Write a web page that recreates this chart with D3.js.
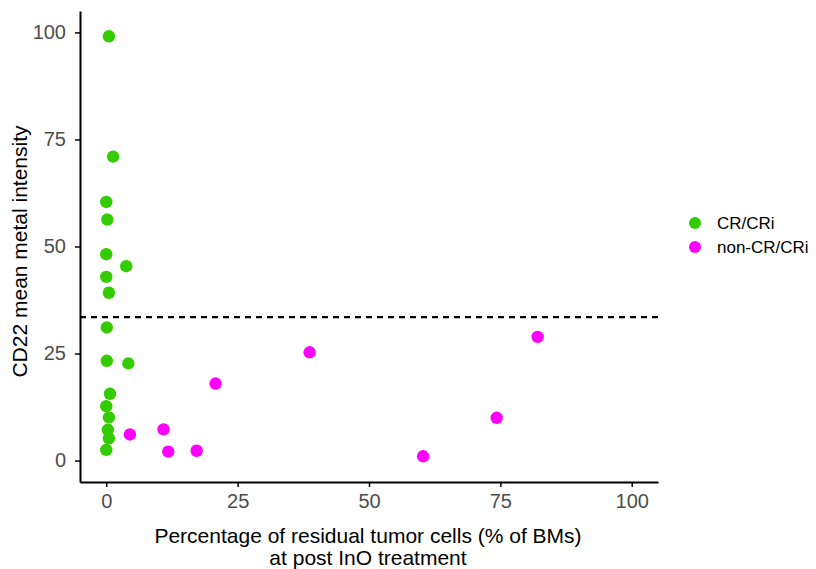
<!DOCTYPE html>
<meta charset="utf-8" />
<style>
  body { margin: 0; background: #fff; }
  text { font-family: "Liberation Sans", Arial, Helvetica, sans-serif; }
</style>
<body>
  <div id="chart"></div>
  <script src="https://cdn.jsdelivr.net/npm/d3@7"></script>
  <script>
    // residual tumor cells (%) and CD22 intensity, by response group
    var crX = [0.5, 1.3, 0, 0.2, 0, 3.8, 0, 0.5, 0.1, 0.1, 4.2, 0.7, 0, 0.5, 0.3, 0.5, 0];
    var crY = [99.1, 71.0, 60.4, 56.3, 48.2, 45.4, 42.9, 39.2, 31.1, 23.3, 22.7, 15.6, 12.7, 10.1, 7.2, 5.2, 2.5];
    var nonX = [4.5, 10.9, 11.8, 17.2, 20.8, 38.7, 82.1, 74.3, 60.3];
    var nonY = [6.1, 7.3, 2.1, 2.3, 18.0, 25.3, 28.9, 10.0, 1.0];
    var groups = ["CR/CRi", "non-CR/CRi"];
    var groupColors = ["#33CC00", "#FF00FF"];
    var xTicks = [0, 25, 50, 75, 100];
    var yTicks = [0, 25, 50, 75, 100];
    var cutoff = 33.5;

    var width = 816, height = 569;
    var plotL = 80, plotR = 658, plotT = 11, plotB = 482;

    var svg = d3.select("#chart").append("svg")
      .attr("width", width)
      .attr("height", height);

    var x = d3.scaleLinear().domain([-5, 105]).range([plotL, plotR]);
    var y = d3.scaleLinear().domain([-5, 105]).range([plotB, plotT]);

    var pts = [];
    crX.forEach(function (v, i) { pts.push({ x: v, y: crY[i], g: 0 }); });
    nonX.forEach(function (v, i) { pts.push({ x: v, y: nonY[i], g: 1 }); });

    // dashed cutoff line
    svg.append("line")
      .attr("x1", plotL).attr("x2", plotR)
      .attr("y1", y(cutoff)).attr("y2", y(cutoff))
      .attr("stroke", "#000")
      .attr("stroke-width", 2.2)
      .attr("stroke-dasharray", "6,5");

    svg.selectAll("circle.pt")
      .data(pts)
      .enter()
      .append("circle")
      .attr("class", "pt")
      .attr("cx", function (d) { return x(d.x); })
      .attr("cy", function (d) { return y(d.y); })
      .attr("r", 6.2)
      .attr("fill", function (d) { return groupColors[d.g]; });

    // axes
    var xAxis = svg.append("g")
      .attr("transform", "translate(0," + plotB + ")")
      .call(d3.axisBottom(x).tickValues(xTicks).tickSizeInner(5).tickSizeOuter(0).tickPadding(7));
    var yAxis = svg.append("g")
      .attr("transform", "translate(" + plotL + ",0)")
      .call(d3.axisLeft(y).tickValues(yTicks).tickSizeInner(5).tickSizeOuter(0).tickPadding(9));

    [xAxis, yAxis].forEach(function (a) {
      a.select(".domain").attr("stroke", "#000").attr("stroke-width", 2);
      a.selectAll(".tick line").attr("stroke", "#000").attr("stroke-width", 1.5);
      a.selectAll(".tick text")
        .attr("fill", "#4d4d4d")
        .style("font-size", "20px")
        .style("font-family", "'Liberation Sans', Arial, sans-serif");
    });

    // axis titles
    var cx = (plotL + plotR) / 2 - 1;
    var xt = svg.append("text")
      .attr("text-anchor", "middle")
      .attr("font-size", "21px")
      .attr("fill", "#000");
    xt.append("tspan").attr("x", cx).attr("y", 543)
      .text("Percentage of residual tumor cells (% of BMs)");
    xt.append("tspan").attr("x", cx).attr("y", 565)
      .text("at post InO treatment");

    svg.append("text")
      .attr("transform", "translate(27," + ((plotT + plotB) / 2 + 5) + ") rotate(-90)")
      .attr("text-anchor", "middle")
      .attr("font-size", "21px")
      .attr("fill", "#000")
      .text("CD22 mean metal intensity");

    // legend
    var leg = svg.selectAll("g.leg")
      .data(groups)
      .enter()
      .append("g")
      .attr("class", "leg")
      .attr("transform", function (d, i) { return "translate(695," + (223 + i * 24) + ")"; });
    leg.append("circle")
      .attr("r", 6)
      .attr("fill", function (d, i) { return groupColors[i]; });
    leg.append("text")
      .attr("x", 22)
      .attr("y", 6)
      .attr("font-size", "17px")
      .attr("fill", "#000")
      .text(function (d) { return d; });
  </script>
</body>
